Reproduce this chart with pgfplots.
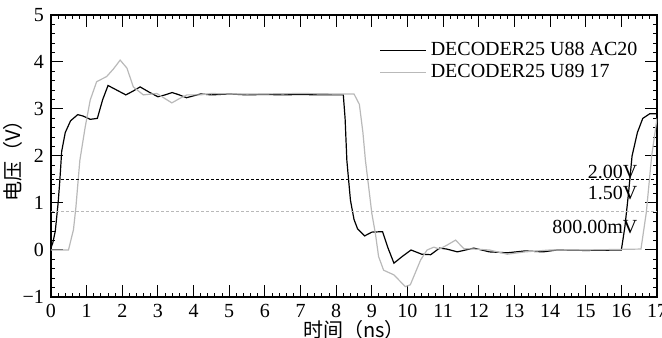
\documentclass[border=0pt]{standalone}
\usepackage{pgfplots}
\pgfplotsset{compat=1.18}
\usepackage{fontspec}
\setmainfont{Liberation Serif}
\newfontfamily\cjk{Noto Sans CJK SC}
\definecolor{lgray}{RGB}{185,185,185}
\begin{document}
\begin{tikzpicture}
\begin{axis}[
  scale only axis,
  width=303pt, height=141pt,
  xmin=0, xmax=17, ymin=-1, ymax=5,
  xtick={0,1,...,17},
  ytick={-1,0,1,2,3,4,5},
  yticklabels={−1,0,1,2,3,4,5},
  minor x tick num=4,
  minor y tick num=4,
  tick align=inside,
  major tick length=6pt,
  minor tick length=2pt,
  tick style={black, line width=0.5pt},
  axis line style={line width=0.6pt},
  /pgf/number format/assume math mode=true,
  tick label style={font=\fontsize{10}{10}\selectfont},
  xlabel={\cjk{时间（}ns\cjk{）}},
  ylabel={\cjk{电压（}V\cjk{）}},
  label style={font=\fontsize{9}{9}\selectfont},
  every axis x label/.style={at={(axis description cs:0.5,-0.117)}, anchor=center},
  every axis y label/.style={at={(axis description cs:-0.063,0.5)}, anchor=center, rotate=90},
  legend style={at={(rel axis cs:0.975,0.92)}, anchor=north east, draw=none, fill=none,
    font=\fontsize{10}{10}\selectfont, row sep=-1pt, inner sep=0pt},
  legend image code/.code={\draw[#1] (0pt,0pt) -- (23pt,0pt);},
  legend cell align=left,
]
\addplot[black, line width=0.6pt] coordinates {
(0,0.05) (0.05,0.15) (0.12,0.4) (0.2,1.0) (0.25,1.5) (0.3,2.1) (0.4,2.5) (0.55,2.75)
(0.75,2.88) (0.9,2.85) (1.1,2.78) (1.3,2.8) (1.45,3.2) (1.6,3.5) (1.85,3.4) (2.1,3.3)
(2.3,3.38) (2.5,3.47) (2.75,3.36) (3.0,3.26) (3.2,3.3) (3.4,3.35) (3.6,3.3) (3.8,3.24)
(4.0,3.28) (4.2,3.32) (4.5,3.3) (5,3.32) (5.5,3.3) (6,3.31) (6.5,3.3) (7,3.31) (7.5,3.3)
(8,3.3) (8.2,3.3) (8.25,2.8) (8.3,1.9) (8.4,1.06) (8.5,0.65) (8.6,0.45) (8.8,0.3)
(9.0,0.38) (9.3,0.39) (9.45,0.05) (9.62,-0.28) (9.85,-0.14) (10.1,0.0) (10.4,-0.09)
(10.65,-0.1) (10.9,0.04) (11.1,0.02) (11.4,-0.04) (11.86,0.04) (12.3,-0.04) (12.8,-0.06)
(13.3,-0.02) (13.8,-0.04) (14.2,0.0) (15,-0.01) (16.0,0.0) (16.1,0.5) (16.2,1.2)
(16.3,2.0) (16.45,2.5) (16.6,2.8) (16.8,2.9) (17,2.9)
};
\addlegendentry{DECODER25 U88 AC20}
\addplot[lgray, line width=0.6pt] coordinates {
(0,0.0) (0.49,0.0) (0.63,0.43) (0.7,0.92) (0.77,1.56) (0.81,1.91) (0.96,2.62) (1.1,3.19)
(1.28,3.58) (1.56,3.69) (1.75,3.85) (1.94,4.04) (2.13,3.87) (2.31,3.47) (2.59,3.3)
(2.97,3.33) (3.2,3.22) (3.39,3.13) (3.6,3.22) (3.81,3.3) (4.19,3.3) (4.5,3.33) (5,3.32)
(6,3.32) (7,3.33) (8,3.32) (8.5,3.32) (8.65,3.1) (8.75,2.5) (8.82,1.91) (8.91,1.35)
(9.0,0.78) (9.1,0.35) (9.19,-0.14) (9.33,-0.43) (9.62,-0.53) (9.94,-0.78) (10.08,-0.74)
(10.37,-0.21) (10.55,0.0) (10.74,0.06) (10.9,0.02) (11.1,0.1) (11.35,0.21) (11.58,0.03)
(11.86,0.02) (12.3,0.0) (12.8,-0.09) (13.3,-0.04) (14,0.0) (15,0.0) (16.55,0.02)
(16.7,0.8) (16.85,2.0) (17,2.8)
};
\addlegendentry{DECODER25 U89 17}
\addplot[black, line width=0.5pt, dash pattern=on 1.5pt off 1pt, forget plot] coordinates {(0,1.51) (17,1.51)};
\addplot[lgray, line width=0.5pt, dash pattern=on 1.5pt off 1pt, forget plot] coordinates {(0,0.81) (17,0.81)};
\node[anchor=east, inner sep=0pt, font=\fontsize{10}{10}\selectfont] at (axis cs:16.46,1.66) {2.00V};
\node[anchor=east, inner sep=0pt, font=\fontsize{10}{10}\selectfont] at (axis cs:16.46,1.21) {1.50V};
\node[anchor=east, inner sep=0pt, font=\fontsize{10}{10}\selectfont] at (axis cs:16.46,0.49) {800.00mV};
\coordinate (ll) at (rel axis cs:0,0);
\coordinate (ur) at (rel axis cs:1,1);
\end{axis}
\pgfresetboundingbox
\path[use as bounding box] ([xshift=-25.5pt,yshift=-20.5pt]ll) rectangle ([xshift=2.5pt,yshift=7.5pt]ur);
\end{tikzpicture}
\end{document}
